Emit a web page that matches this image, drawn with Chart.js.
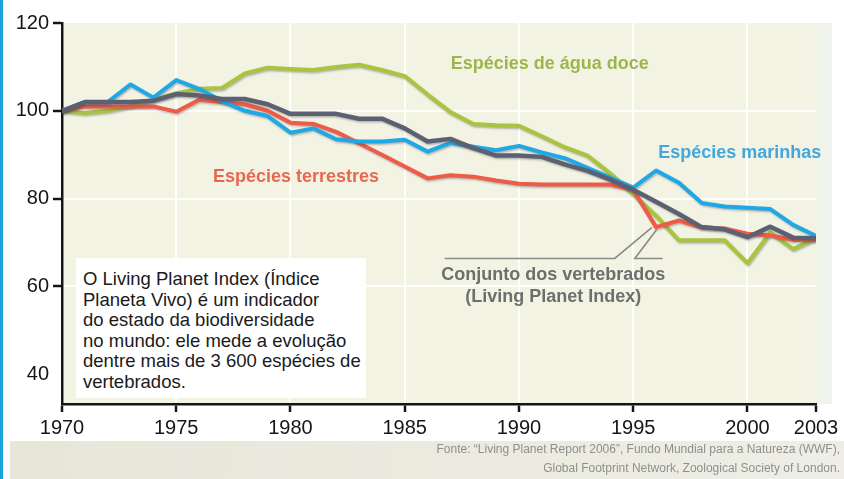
<!DOCTYPE html>
<html>
<head>
<meta charset="utf-8">
<script src="https://cdn.jsdelivr.net/npm/chart.js@4.4.1/dist/chart.umd.min.js"></script>
<style>
  html, body { margin: 0; padding: 0; background: #ffffff; }
  #wrap { position: relative; width: 844px; height: 479px; overflow: hidden; background: #ffffff;
          font-family: "Liberation Sans", Arial, sans-serif; }
  #bluebar { position: absolute; left: 0; top: 0; width: 3px; height: 479px; background: #1ba3de; z-index: 5; }
  #srcband { position: absolute; left: 10px; top: 441px; width: 834px; height: 38px;
             background: linear-gradient(to right, #e6e6d9, #ebebdf 60%, #eeeee6); }
  #src { position: absolute; right: 4px; top: 440px; text-align: right; font-size: 12px; line-height: 19px;
         color: #8f8f8f; white-space: nowrap; z-index: 3; }
  #c { position: absolute; left: 0; top: 0; z-index: 2; }
  #note { position: absolute; left: 76px; top: 258px; width: 290px; height: 140px; background: #ffffff;
          z-index: 4; box-sizing: border-box; padding: 11px 0 0 7px; font-size: 18.5px; line-height: 20.6px;
          color: #1a1a1a; white-space: nowrap; }
</style>
</head>
<body>
<div id="wrap">
  <div id="bluebar"></div>
  <div id="srcband"></div>
  <canvas id="c" width="844" height="479"></canvas>
  <div id="note">O Living Planet Index (Índice<br>Planeta Vivo) é um indicador<br>do estado da biodiversidade<br>no mundo: ele mede a evolução<br>dentre mais de 3 600 espécies de<br>vertebrados.</div>
  <div id="src">Fonte: “Living Planet Report 2006”, Fundo Mundial para a Natureza (WWF),<br>Global Footprint Network, Zoological Society of London.</div>
</div>
<script>
// ---------- DATA ----------
const years = [1970,1971,1972,1973,1974,1975,1976,1977,1978,1979,1980,1981,1982,1983,1984,1985,1986,1987,1988,1989,1990,1991,1992,1993,1994,1995,1996,1997,1998,1999,2000,2001,2002,2003];
const lpiValues = [100,102,102,102,102.3,103.8,103.5,102.7,102.7,101.5,99.3,99.3,99.3,98.2,98.2,96,93,93.6,91.5,89.8,89.8,89.5,87.8,86.3,84.3,82,79.3,76.5,73.5,73,71.2,73.6,71.1,71];
const marineValues = [100,102,102,106,103,107,105,102.2,100,98.8,95,96,93.5,93,93,93.4,90.7,92.7,91.8,91,92,90.5,89.2,87,84.8,82.5,86.4,83.6,79,78.2,77.9,77.6,74,71.5];
const terrestrialValues = [100,101,101,101,101,99.8,102.5,102,101.5,100,97.3,97,95.2,92.6,90,87.3,84.6,85.3,85,84.1,83.4,83.2,83.2,83.2,83.2,82,73.5,75,73.4,73.2,72,71.6,70.6,70.6];
const freshwaterValues = [100,99.5,100,101,102.5,104,105,105.2,108.5,109.8,109.5,109.3,110,110.5,109.3,107.9,103.7,99.7,97,96.7,96.6,94.2,91.7,89.8,85.7,81,76.1,70.5,70.5,70.5,65.3,72.3,68.5,71];
const xTickLabels = [1970,1975,1980,1985,1990,1995,2000,2003];
const yTickLabels = [40,60,80,100,120];
const seriesNames = ["Conjunto dos vertebrados (Living Planet Index)","Espécies marinhas","Espécies terrestres","Espécies de água doce"];

// label anchors in data units (year, index value)
const seriesLabels = [
  { text: ["Espécies de água doce"], x: 1991.35, y: 110.7, color: "#9db64c" },
  { text: ["Espécies marinhas"], x: 1999.66, y: 90.45, color: "#43a7dc" },
  { text: ["Espécies terrestres"], x: 1980.24, y: 85.0, color: "#e8684f" },
  { text: ["Conjunto dos vertebrados", "(Living Planet Index)"], x: 1991.5, y: 62.5, color: "#6e6e6e" }
];
const leaderA = [[1986.75, 66.36], [1994.19, 66.36], [1995.81, 73.4]];
const leaderB = [[1996.29, 66.36], [1995.07, 66.36], [1996.03, 72.95]];

function pts(vals) { return years.map((y, i) => ({ x: y, y: vals[i] })); }

const bgPlugin = {
  id: 'bg',
  beforeDraw(chart) {
    const { ctx, chartArea: a } = chart;
    ctx.save();
    const g = ctx.createLinearGradient(a.right - 4, 0, a.right + 16, 0);
    g.addColorStop(0, '#f3f3e4');
    g.addColorStop(1, '#eef3f2');
    ctx.fillStyle = '#f3f3e4';
    ctx.fillRect(a.left + 2, a.top, a.right - a.left - 6, a.bottom - a.top);
    ctx.fillStyle = g;
    ctx.fillRect(a.right - 4, a.top, 20, a.bottom - a.top);
    ctx.restore();
  }
};

const shadowPlugin = {
  id: 'shadow',
  beforeDatasetDraw(chart) {
    const ctx = chart.ctx;
    ctx.save();
    ctx.shadowColor = 'rgba(60,60,70,0.35)';
    ctx.shadowBlur = 2;
    ctx.shadowOffsetX = 1;
    ctx.shadowOffsetY = 1.5;
  },
  afterDatasetDraw(chart) {
    chart.ctx.restore();
  }
};

const labelPlugin = {
  id: 'labels',
  afterDatasetsDraw(chart) {
    const { ctx, scales: { x, y } } = chart;
    ctx.save();
    // leader lines
    ctx.strokeStyle = '#8a8a8a';
    ctx.lineWidth = 1.6;
    [leaderA, leaderB].forEach(L => {
      ctx.beginPath();
      L.forEach((p, i) => {
        const px = x.getPixelForValue(p[0]), py = y.getPixelForValue(p[1]);
        if (i === 0) ctx.moveTo(px, py); else ctx.lineTo(px, py);
      });
      ctx.stroke();
    });
    ctx.font = 'bold 18px "Liberation Sans", Arial, sans-serif';
    ctx.textAlign = 'center';
    ctx.textBaseline = 'middle';
    seriesLabels.forEach(l => {
      ctx.fillStyle = l.color;
      const px = x.getPixelForValue(l.x);
      l.text.forEach((t, i) => {
        ctx.fillText(t, px, y.getPixelForValue(l.y) + i * 22);
      });
    });
    ctx.restore();
  }
};

new Chart(document.getElementById('c'), {
  type: 'line',
  data: {
    datasets: [
      { label: seriesNames[0], data: pts(lpiValues), borderColor: '#5b6072', borderWidth: 4.5 },
      { label: seriesNames[1], data: pts(marineValues), borderColor: '#1ea8e6', borderWidth: 4 },
      { label: seriesNames[2], data: pts(terrestrialValues), borderColor: '#ef5b46', borderWidth: 4 },
      { label: seriesNames[3], data: pts(freshwaterValues), borderColor: '#a9c43e', borderWidth: 4 }
    ]
  },
  options: {
    responsive: false,
    animation: false,
    events: [],
    elements: { point: { radius: 0 }, line: { tension: 0, borderJoinStyle: 'round', borderCapStyle: 'round' } },
    layout: { padding: { left: 0, right: 28, top: 23, bottom: 0 } },
    plugins: { legend: { display: false }, tooltip: { enabled: false } },
    scales: {
      x: {
        type: 'linear', min: 1970, max: 2003,
        afterBuildTicks: s => { s.ticks = xTickLabels.map(v => ({ value: v })); },
        afterFit: s => { s.height = 75; },
        border: { display: true, color: '#151515', width: 2.5 },
        grid: {
          drawOnChartArea: true, drawTicks: true, tickLength: 8, tickWidth: 2.5, tickColor: '#151515',
          color: c => (c.tick && (c.tick.value === 1970 || c.tick.value === 2003)) ? 'rgba(0,0,0,0)' : 'rgba(255,255,255,0.85)',
          lineWidth: 2
        },
        ticks: {
          autoSkip: false, maxRotation: 0, padding: 4, color: '#151515',
          font: { family: '"Liberation Sans", Arial, sans-serif', size: 20 },
          callback: v => String(v)
        }
      },
      y: {
        type: 'linear', min: 33.2, max: 120,
        afterBuildTicks: s => { s.ticks = yTickLabels.map(v => ({ value: v })); },
        afterFit: s => { s.width = 62; },
        border: { display: true, color: '#151515', width: 2.5 },
        grid: {
          drawOnChartArea: true, drawTicks: true, tickLength: 9, tickWidth: 2.5,
          tickColor: c => (c.tick && c.tick.value === 40) ? 'rgba(0,0,0,0)' : '#151515',
          color: c => (c.tick && (c.tick.value === 40 || c.tick.value === 120)) ? 'rgba(0,0,0,0)' : 'rgba(255,255,255,0.85)',
          lineWidth: 2
        },
        ticks: {
          padding: 4, color: '#151515',
          font: { family: '"Liberation Sans", Arial, sans-serif', size: 20 },
          callback: v => String(v)
        }
      }
    }
  },
  plugins: [bgPlugin, shadowPlugin, labelPlugin]
});
</script>
</body>
</html>
